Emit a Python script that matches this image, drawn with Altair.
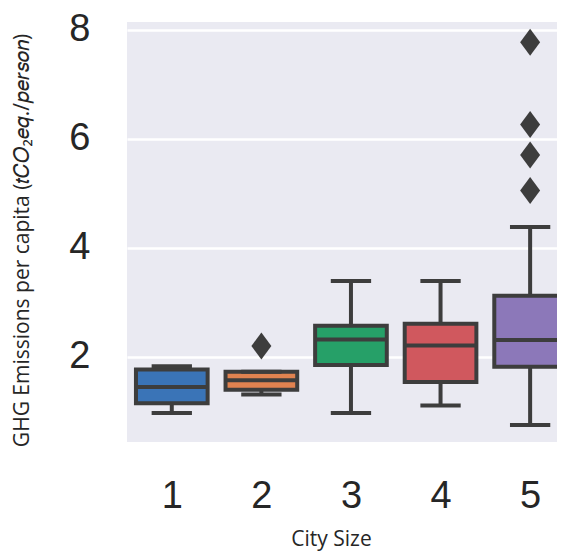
import altair as alt
import pandas as pd

# ---- data ----
city_size = [1, 2, 3, 4, 5]
whisker_low = [0.97, 1.31, 0.97, 1.11, 0.75]
q1 = [1.15, 1.40, 1.85, 1.54, 1.82]
median = [1.45, 1.57, 2.32, 2.21, 2.31]
q3 = [1.77, 1.73, 2.57, 2.61, 3.12]
whisker_high = [1.83, 1.73, 3.39, 3.39, 4.38]
outlier_size = [2, 5, 5, 5, 5]
outlier_value = [2.20, 5.05, 5.70, 6.26, 7.77]
box_colors = ["#3a74b7", "#e08250", "#26a068", "#d0585e", "#8c78b9"]
y_ticks = [2, 4, 6, 8]

stats = pd.DataFrame({
    "size": city_size,
    "lo": whisker_low,
    "q1": q1,
    "med": median,
    "q3": q3,
    "hi": whisker_high,
})
outl = pd.DataFrame({"size": outlier_size, "value": outlier_value})

EDGE = "#3d3d3d"
TXT = "#262626"
xscale = alt.Scale(domain=[0.5, 5.3], nice=False, zero=False)
yscale = alt.Scale(domain=[0.44, 8.14], nice=False, zero=False)
ytitle = "GHG Emissions per capita (𝑡𝐶𝑂₂𝑒𝑞./𝑝𝑒𝑟𝑠𝑜𝑛)"

xaxis = alt.Axis(values=city_size, format="d", title="City Size", grid=False,
                 domain=False, ticks=False, labelPadding=35, labelFontSize=38,
                 labelFont="Liberation Sans", labelColor=TXT, labelAngle=0,
                 titleFontSize=21, titleFont="Open Sans", titleColor=TXT,
                 titleFontWeight="normal", titleX=204, titleY=97,
                 titleBaseline="middle", titleAlign="center")
yaxis = alt.Axis(values=y_ticks, format="d", title=ytitle, grid=True,
                 gridColor="white", gridWidth=2.5, domain=False, ticks=False,
                 labelPadding=37, labelFontSize=38, labelFont="Liberation Sans",
                 labelColor=TXT, titleFontSize=21, titleFont="Open Sans",
                 titleColor=TXT, titleFontWeight="normal", titleAngle=270,
                 titleX=-105, titleY=218, titleBaseline="middle", titleAlign="center")

base = alt.Chart(stats).transform_calculate(
    xl="datum.size - 0.4", xr="datum.size + 0.4",
    cl="datum.size - 0.225", cr="datum.size + 0.225",
)

whisk = base.mark_rule(color=EDGE, strokeWidth=4, clip=True).encode(
    x=alt.X("size:Q", scale=xscale, axis=xaxis),
    y=alt.Y("lo:Q", scale=yscale, axis=yaxis),
    y2="hi:Q",
)
box = base.mark_bar(stroke=EDGE, strokeWidth=4, clip=True, opacity=1).encode(
    x=alt.X("xl:Q", scale=xscale, axis=xaxis),
    x2="xr:Q",
    y=alt.Y("q1:Q", scale=yscale, axis=yaxis),
    y2="q3:Q",
    fill=alt.Fill("size:N", scale=alt.Scale(domain=city_size, range=box_colors), legend=None),
)
med = base.mark_rule(color=EDGE, strokeWidth=4, clip=True).encode(
    x=alt.X("xl:Q", scale=xscale, axis=xaxis),
    x2="xr:Q",
    y=alt.Y("med:Q", scale=yscale, axis=yaxis),
)
cap_lo = base.mark_rule(color=EDGE, strokeWidth=4, clip=True).encode(
    x=alt.X("cl:Q", scale=xscale, axis=xaxis),
    x2="cr:Q",
    y=alt.Y("lo:Q", scale=yscale, axis=yaxis),
)
cap_hi = base.mark_rule(color=EDGE, strokeWidth=4, clip=True).encode(
    x=alt.X("cl:Q", scale=xscale, axis=xaxis),
    x2="cr:Q",
    y=alt.Y("hi:Q", scale=yscale, axis=yaxis),
)
pts = alt.Chart(outl).mark_point(
    shape="M0,-1L0.74,0L0,1L-0.74,0Z", filled=True, fill=EDGE, opacity=1,
    size=729, strokeWidth=0, clip=True,
).encode(
    x=alt.X("size:Q", scale=xscale, axis=xaxis),
    y=alt.Y("value:Q", scale=yscale, axis=yaxis),
)

chart = alt.layer(whisk, box, med, cap_lo, cap_hi, pts).properties(
    width=430, height=420,
    padding={"left": 119, "top": 14, "right": 0, "bottom": 112},
    autosize=alt.AutoSizeParams(type="none"),
    background="white",
).configure_view(fill="#eaeaf2", stroke=None)

chart.save("out.html", embed_options={"renderer": "svg", "actions": False})
